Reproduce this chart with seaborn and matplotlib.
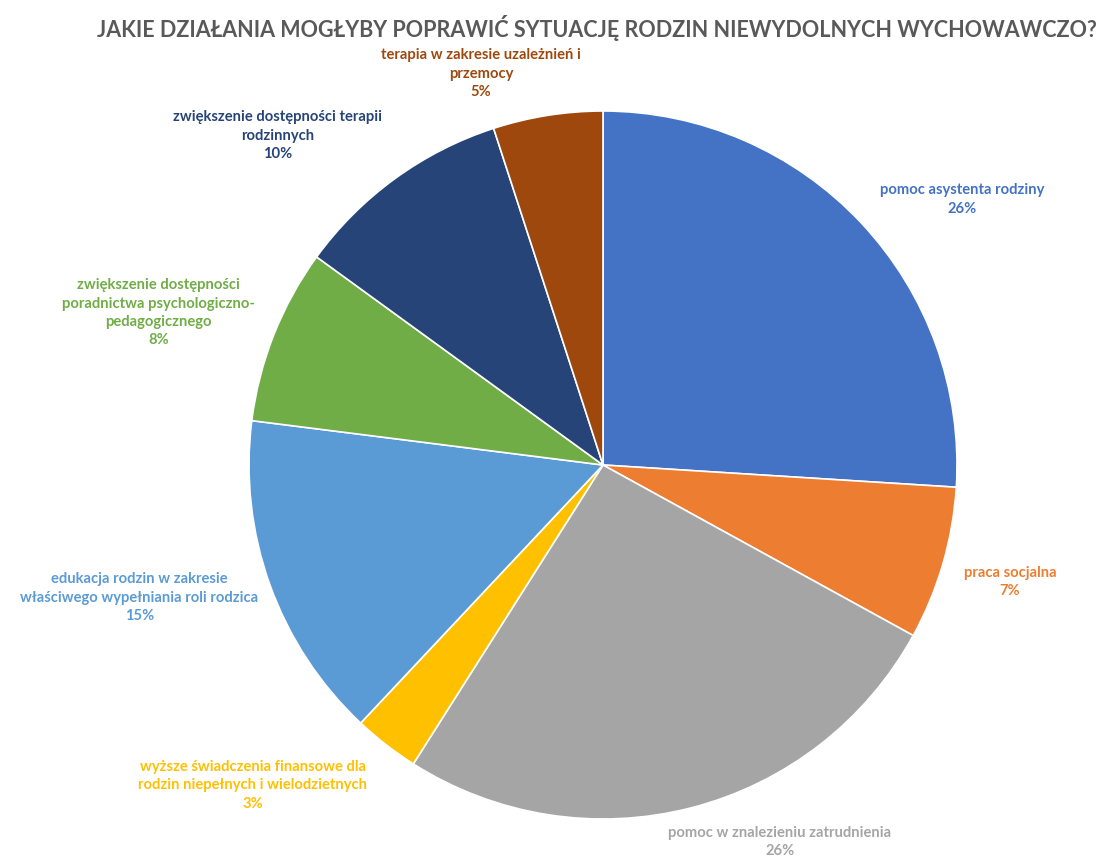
import matplotlib
matplotlib.use("Agg")
import matplotlib.pyplot as plt
import seaborn as sns
import numpy as np

# --- Data ---
CATEGORIES = [
    'pomoc asystenta rodziny',
    'praca socjalna',
    'pomoc w znalezieniu zatrudnienia',
    'wyższe świadczenia finansowe dla\nrodzin niepełnych i wielodzietnych',
    'edukacja rodzin w zakresie\nwłaściwego wypełniania roli rodzica',
    'zwiększenie dostępności\nporadnictwa psychologiczno-\npedagogicznego',
    'zwiększenie dostępności terapii\nrodzinnych',
    'terapia w zakresie uzależnień i\nprzemocy',
]
PERCENTS = [26, 7, 26, 3, 15, 8, 10, 5]

COLORS = ['#4472C4', '#ED7D31', '#A5A5A5', '#FFC000',
          '#5B9BD5', '#70AD47', '#264478', '#9E480E']

# label centre relative to pie centre, in pie radii (x right, y up)
LABEL_POS = [(1.015, 0.75), (1.15, -0.33), (0.50, -1.065), (-0.99, -0.905),
             (-1.31, -0.375), (-1.255, 0.43), (-0.92, 0.93), (-0.345, 1.105)]

TITLE = 'JAKIE DZIAŁANIA MOGŁYBY POPRAWIĆ SYTUACJĘ RODZIN NIEWYDOLNYCH WYCHOWAWCZO?'

# --- Layout (pixels in a 1101x858 figure) ---
W, H = 1101, 858
CX, CY = 603, 465   # pie centre from top-left
R = 354

sns.set_theme(style='white')
plt.rcParams['font.family'] = ['Lato', 'DejaVu Sans']

fig = plt.figure(figsize=(W / 100, H / 100), dpi=100)
ax = fig.add_axes([0, 0, 1, 1])

palette = sns.color_palette(COLORS)
ax.pie(PERCENTS, colors=palette, startangle=90, counterclock=False,
       radius=1, wedgeprops=dict(edgecolor='white', linewidth=1.2))

ax.set_aspect('auto')
ax.set_xlim(-CX / R, (W - CX) / R)
ax.set_ylim(-(H - CY) / R, CY / R)
ax.axis('off')

for cat, pct, col, (lx, ly) in zip(CATEGORIES, PERCENTS, COLORS, LABEL_POS):
    ax.text(lx, ly, f'{cat}\n{pct}%', color=col, ha='center', va='center',
            fontsize=10.6, fontweight='bold', linespacing=1.4)

fig.text(597 / W, 1 - 28 / H, TITLE, ha='center', va='center',
         fontsize=15.5, fontweight='bold', color='#595959')

fig.savefig('out.png', dpi=100)
